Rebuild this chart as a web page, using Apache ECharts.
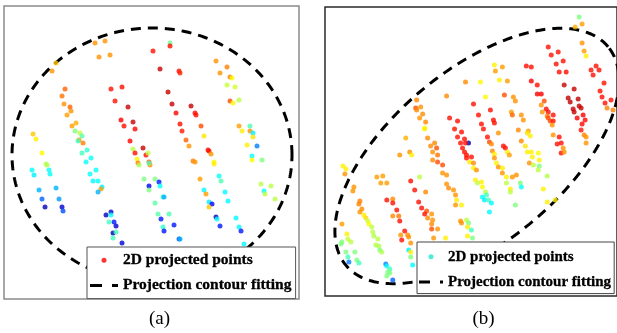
<!DOCTYPE html>
<html><head><meta charset="utf-8">
<script src="https://cdn.jsdelivr.net/npm/echarts@6/dist/echarts.min.js"></script>
<style>html,body{margin:0;padding:0;background:#fff}#c{width:617px;height:333px}</style>
</head><body><div id="c"></div>
<script>
// ---- data: [x, y, colour value 0..1 (jet)] in panel units ----
const pointsA = [
[95,43,.73],[105,41,.73],[99,57,.73],[110,55,.73],[56,63,.68],[52,71,.73],
[170,43,.48],[170,46,.86],[153,51,.86],[160,69,.93],[179,71,.86],[180,73,.84],
[216,61,.73],[227,67,.75],[220,73,.73],[230,77,.75],[232,78,.63],[227,85,.57],[235,87,.58],[230,101,.8],[233,103,.63],[239,100,.56],
[65,89,.78],[62,96,.76],[64,104,.73],[70,107,.78],[71,111,.73],[67,115,.72],[76,123,.7],[72,126,.72],[75,131,.5],[80,133,.56],[82,136,.46],[79,140,.73],[78,141,.44],[83,143,.75],[87,150,.42],
[111,89,.86],[122,87,.86],[115,101,.86],[128,107,.93],[121,120,.88],[133,122,.93],[124,126,.86],[135,129,.87],[130,141,.87],[143,148,.93],[133,149,.56],
[168,92,.93],[172,104,.93],[176,113,.87],[191,106,.93],[195,113,.87],[196,115,.86],[180,124,.86],[182,131,.85],[201,126,.8],[186,140,.78],[189,146,.73],[204,136,.65],[208,150,.86],
[33,134,.68],[36,139,.64],
[239,126,.72],[242,131,.64],[250,126,.45],[250,131,.73],[253,133,.36],[253,137,.65],[247,145,.64],[257,146,.25],
[42,153,.63],[46,164,.55],[47,165,.55],[32,170,.38],[49,170,.38],[34,175,.36],[50,174,.38],[39,190,.3],[56,188,.3],[42,199,.22],[59,199,.28],[45,207,.06],[62,207,.08],[63,211,.2],
[82,153,.44],[91,158,.38],[86,162,.38],[90,174,.38],[96,170,.38],[93,181,.37],[98,181,.38],[102,187,.36],[101,189,.72],[98,192,.3],
[135,153,.86],[146,155,.86],[148,153,.56],[137,159,.63],[138,163,.76],[139,165,.55],[149,162,.8],[150,165,.73],[149,163,.45],
[144,179,.5],[155,179,.5],[149,186,.12],[159,182,.15],[149,190,.5],[160,186,.38],[163,197,.44],[164,197,.3],[155,203,.46],[158,214,.46],[169,214,.45],[161,219,.15],[174,225,.15],[163,227,.42],[164,231,.15],[179,239,.2],[180,239,.3],
[106,215,.06],[111,212,.08],[111,215,.38],[114,222,.15],[109,222,.44],[116,226,.08],[113,233,.06],[116,232,.44],[113,238,.44],[122,243,.08],
[193,161,.75],[195,162,.73],[209,151,.86],[211,154,.73],[214,162,.63],[214,164,.64],[219,176,.38],[221,181,.45],[200,179,.72],[204,190,.37],[206,194,.72],[209,202,.36],[212,204,.12],[209,207,.68],[225,192,.37],[228,201,.37],[216,217,.06],[217,219,.38],[220,226,.15],[236,218,.37],[239,227,.37],[241,231,.15],[244,244,.37],
[252,156,.38],[252,160,.63],[262,160,.5],[261,184,.56],[271,186,.56],[264,191,.38],[265,194,.56],[275,199,.56]
];
const pointsB = [
[580,17,.5],[583,24,.72],[576,27,.7],[583,43,.73],[585,51,.72],[587,56,.64],
[549,47,.86],[552,55,.86],[559,52,.86],[557,64,.86],[564,61,.86],[560,72,.86],[567,72,.86],[565,85,.93],[575,89,.93],[569,98,.94],[571,102,.94],[579,99,.94],[574,109,.93],[580,106,.93],[575,112,.93],[582,108,.93],[584,115,.88],[578,118,.88],[586,120,.87],[583,124,.87],[582,130,.86],[585,135,.75],[587,137,.73],[587,143,.73],
[597,66,.86],[592,70,.86],[600,70,.86],[594,75,.86],[605,83,.86],[601,91,.86],[603,97,.86],[612,100,.86],[606,103,.86],[608,108,.75],[614,110,.75],
[527,66,.86],[532,67,.86],[532,81,.88],[538,85,.86],[538,94,.88],[542,94,.88],[545,101,.8],[542,105,.73],[547,109,.86],[543,112,.73],[549,112,.86],[548,116,.76],[549,118,.8],[554,115,.86],[551,121,.8],[554,121,.86],[553,125,.73],[554,135,.73],[560,137,.86],[558,144,.86],[562,143,.86],[564,148,.73],
[495,65,.64],[496,71,.72],[503,67,.72],[500,80,.64],[508,81,.72],[466,82,.74],[481,82,.63],[505,95,.8],[514,97,.73],[516,101,.73],[486,97,.63],
[474,104,.86],[491,110,.86],[479,115,.86],[482,124,.86],[484,129,.86],[494,120,.86],[495,123,.86],
[512,112,.72],[513,115,.78],[522,115,.73],[524,120,.73],[519,130,.74],[529,131,.72],[528,133,.65],[531,136,.64],[522,141,.74],[526,146,.65],
[499,133,.73],[488,137,.86],[490,142,.8],[492,144,.74],[504,146,.86],[506,148,.86],
[447,96,.74],[450,118,.86],[458,121,.86],[455,129,.86],[462,132,.86],[458,137,.86],[465,139,.86],[469,143,.05],[466,143,.86],[461,143,.86],[463,148,.86],
[417,100,.74],[416,108,.8],[421,107,.73],[417,110,.74],[423,114,.74],[420,118,.73],[426,122,.74],[425,128,.63],[425,129,.64],[428,138,.74],[435,143,.74],[437,148,.8],[431,146,.74],[406,138,.7],
[400,155,.73],[410,152,.73],[412,155,.64],[433,152,.73],[438,155,.76],[465,152,.86],[467,155,.86],[493,151,.74],[495,154,.64],[508,152,.64],[510,155,.72],[528,152,.64],[532,152,.64],[539,153,.63],[562,153,.86],[565,152,.73],
[343,166,.64],[346,169,.64],[345,174,.73],[354,187,.73],[353,191,.73],[377,177,.72],[383,176,.72],[381,183,.72],[387,183,.72],
[360,201,.75],[359,204,.75],[362,209,.74],[360,212,.73],[364,215,.64],[366,218,.66],[368,221,.57],[369,224,.63],[372,227,.56],[373,232,.56],[374,236,.55],[378,239,.56],[376,245,.55],[379,246,.55],[380,250,.5],[382,252,.55],
[342,224,.72],[347,234,.64],[348,239,.57],[351,242,.56],[342,242,.5],[341,244,.5],[346,252,.5],[355,252,.5],[348,257,.44],[349,262,.25],[357,260,.5],[359,263,.44],
[386,264,.25],[387,266,.37],[390,269,.44],[388,272,.5],[387,276,.5],[393,280,.22],[390,273,.5],
[387,200,.86],[393,199,.74],[393,203,.86],[397,210,.86],[393,216,.74],[399,216,.76],[400,221,.86],[405,231,.86],[401,235,.73],[408,235,.74],[402,240,.86],[409,237,.73],[411,243,.73],[409,250,.36],[411,252,.64],[411,257,.5],[413,265,.37],
[411,181,.86],[415,190,.86],[420,177,.56],[426,192,.74],[419,202,.86],[422,208,.86],[427,211,.8],[425,214,.86],[428,218,.74],[432,214,.73],[433,220,.73],[432,224,.74],[432,229,.8],[438,229,.73],[434,238,.73],[446,238,.64],
[433,160,.74],[438,162,.8],[443,165,.8],[443,173,.73],[447,175,.73],[447,184,.73],[449,188,.74],[454,190,.73],[456,195,.73],[457,200,.64],[456,205,.73],[462,205,.64],[461,221,.73],[462,223,.73],[467,220,.56],[469,223,.5],[468,227,.64],[472,230,.44],[468,236,.64],[473,238,.5],
[467,158,.86],[470,162,.64],[472,157,.86],[474,163,.74],[474,168,.64],[477,170,.73],[476,180,.64],[478,183,.56],[482,182,.64],[483,187,.63],[486,192,.56],[483,197,.37],[487,195,.44],[485,200,.36],[489,200,.44],[492,203,.37],[490,212,.37],
[495,158,.73],[497,163,.64],[499,167,.73],[503,168,.64],[503,173,.73],[507,177,.64],[507,183,.56],[513,177,.73],[511,189,.64],[511,192,.56],[521,183,.5],[522,187,.38],[517,175,.73],[516,205,.5],
[533,157,.64],[530,163,.73],[534,165,.56],[540,160,.64],[540,166,.5],[539,170,.56],[548,176,.55],[544,189,.64],[548,202,.64],[556,200,.64]
];
// fitted contour ellipses: [centreX, centreY, semiAxisA, semiAxisB, rotationDeg]
const ellipseA = [152, 155, 140, 127, 0];
const ellipseB = [477.5, 156, 171, 86, 39.7];
const seriesNames = ['2D projected points', 'Projection contour fitting'];
const panelLabels = ['(a)', '(b)'];
const jet = ['#00007f','#0000ff','#007fff','#00ffff','#7fff7f','#ffff00','#ff7f00','#ff0000','#7f0000'];

function ellipseLine(e) {
  const [cx, cy, a, b, deg] = e, th = deg * Math.PI / 180, out = [];
  for (let i = 0; i <= 360; i++) {
    const t = i * Math.PI / 180;
    out.push([cx + a*Math.cos(t)*Math.cos(th) - b*Math.sin(t)*Math.sin(th),
              cy - (a*Math.cos(t)*Math.sin(th) + b*Math.sin(t)*Math.cos(th))]);
  }
  return out;
}
const hidden = {axisLine:{show:false}, axisTick:{show:false}, axisLabel:{show:false}, splitLine:{show:false}};
const font = (s) => ({fontFamily:'Liberation Serif', fontWeight:'bold', fontSize:s, color:'#000', textBorderColor:'#000', textBorderWidth:0.3});
const labelFont = {fontFamily:'Liberation Serif', fontSize:19, fontWeight:'normal', color:'#000'};
const chart = echarts.init(document.getElementById('c'), null, {renderer:'canvas'});
chart.setOption({
  animation:false,
  grid:[
    {left:4, top:6, width:295, height:293, show:true, borderColor:'#8a8a8a', borderWidth:1.5, backgroundColor:'#fff'},
    {left:325, top:7, width:293, height:289, show:true, borderColor:'#2a2a2a', borderWidth:1.5, backgroundColor:'#fff'}
  ],
  xAxis:[
    Object.assign({type:'value', gridIndex:0, min:4, max:299}, hidden),
    Object.assign({type:'value', gridIndex:1, min:325, max:618}, hidden)
  ],
  yAxis:[
    Object.assign({type:'value', gridIndex:0, min:6, max:299, inverse:true}, hidden),
    Object.assign({type:'value', gridIndex:1, min:7, max:296, inverse:true}, hidden)
  ],
  visualMap:[
    {type:'continuous', show:false, seriesIndex:0, dimension:2, min:0, max:1, inRange:{color:jet}},
    {type:'continuous', show:false, seriesIndex:2, dimension:2, min:0, max:1, inRange:{color:jet}}
  ],
  legend:[
    {left:87, top:247, orient:'vertical', backgroundColor:'#fff', borderColor:'#555', borderWidth:1,
     padding:[5,4,5,3], itemWidth:28, itemHeight:5, itemGap:9, textStyle:font(15.5),
     data:[{name:seriesNames[0], icon:'circle', itemStyle:{color:'#ff0000'}},
           {name:seriesNames[1], icon:'path://M0 0h12v3h-12z M22 0h6v3h-6z', itemStyle:{color:'#000'}}]},
    {left:417, top:242, orient:'vertical', backgroundColor:'#fff', borderColor:'#444', borderWidth:1,
     padding:[7,3,4,2], itemWidth:24, itemHeight:5, itemGap:10, textStyle:font(15),
     data:[{name:seriesNames[0], icon:'circle', itemStyle:{color:'#22e6d2'}},
           {name:seriesNames[1], icon:'path://M0 0h11v3h-11z M21 0h3v3h-3z', itemStyle:{color:'#000'}}]}
  ],
  title:[
    {text:panelLabels[0], left:159.5, top:310, padding:0, textAlign:'center', textStyle:labelFont},
    {text:panelLabels[1], left:483.5, top:310, padding:0, textAlign:'center', textStyle:labelFont}
  ],
  series:[
    {name:seriesNames[0], type:'scatter', xAxisIndex:0, yAxisIndex:0, symbolSize:5, data:pointsA, z:3},
    {name:seriesNames[1], type:'line', xAxisIndex:0, yAxisIndex:0, data:ellipseLine(ellipseA), showSymbol:false, symbol:'none',
     lineStyle:{type:[10,7], width:3, color:'#000'}, itemStyle:{color:'#000'}, z:2},
    {name:seriesNames[0], type:'scatter', xAxisIndex:1, yAxisIndex:1, symbolSize:5, data:pointsB, z:3},
    {name:seriesNames[1], type:'line', xAxisIndex:1, yAxisIndex:1, data:ellipseLine(ellipseB), showSymbol:false, symbol:'none',
     lineStyle:{type:[10,7], width:3, color:'#000'}, itemStyle:{color:'#000'}, z:2}
  ]
});
</script></body></html>
